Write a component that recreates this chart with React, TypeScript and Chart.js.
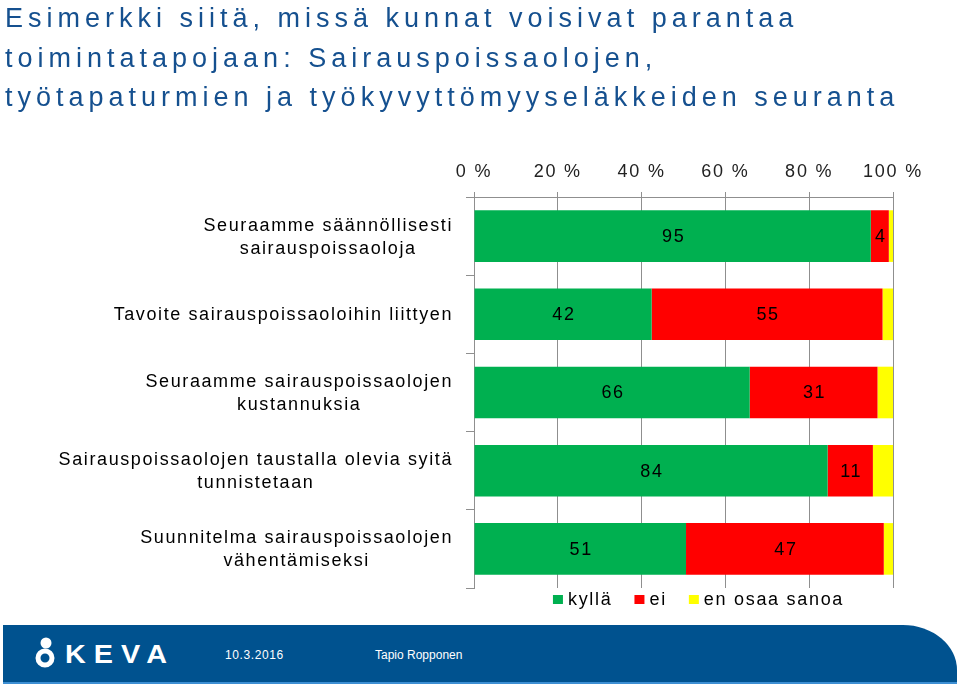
import { useEffect, useRef } from "react";
import { Chart, registerables } from "chart.js";

Chart.register(...registerables);

const titleLines = [
  "Esimerkki siitä, missä kunnat voisivat parantaa",
  "toimintatapojaan: Sairauspoissaolojen,",
  "työtapaturmien ja työkyvyttömyyseläkkeiden seuranta",
];

const categories: string[][] = [
  ["Seuraamme säännöllisesti", "sairauspoissaoloja"],
  ["Tavoite sairauspoissaoloihin liittyen"],
  ["Seuraamme sairauspoissaolojen", "kustannuksia"],
  ["Sairauspoissaolojen taustalla olevia syitä", "tunnistetaan"],
  ["Suunnitelma sairauspoissaolojen", "vähentämiseksi"],
];

const seriesNames = ["kyllä", "ei", "en osaa sanoa"];
const kylla = [94.7, 42.4, 65.8, 84.4, 50.6];
const ei = [4.3, 55.1, 30.5, 10.8, 47.2];
const enOsaa = [1.0, 2.5, 3.7, 4.8, 2.2];
const seriesColors = ["#00B050", "#FF0000", "#FFFF00"];
const labelledSeries = [true, true, false];

const xTicks = [0, 20, 40, 60, 80, 100];

const footerDate = "10.3.2016";
const footerName = "Tapio Ropponen";

const FONT = '"Liberation Sans", Arial, sans-serif';

const customPlugin = {
  id: "custom",
  beforeDraw(chart: any) {
    (chart.ctx as any).letterSpacing = "1.8px";
  },
  afterDatasetsDraw(chart: any) {
    const ctx = chart.ctx;
    ctx.save();
    ctx.font = `18px ${FONT}`;
    (ctx as any).letterSpacing = "1.7px";
    ctx.fillStyle = "#000";
    ctx.textAlign = "center";
    ctx.textBaseline = "middle";
    chart.data.datasets.forEach((ds: any, di: number) => {
      if (!labelledSeries[di]) return;
      const meta = chart.getDatasetMeta(di);
      meta.data.forEach((el: any, i: number) => {
        const v = ds.data[i];
        const c = el.getCenterPoint();
        ctx.fillText(String(Math.round(v)), c.x + 1, c.y + 1);
      });
    });
    ctx.restore();
  },
  afterDraw(chart: any) {
    const ctx = chart.ctx;
    const yScale = chart.scales.y;
    const area = chart.chartArea;
    ctx.save();
    ctx.font = `18px ${FONT}`;
    (ctx as any).letterSpacing = "1.6px";
    ctx.fillStyle = "#000";
    ctx.textAlign = "center";
    ctx.textBaseline = "middle";
    const lh = 23;
    const right = area.left - 21;
    categories.forEach((lines, i) => {
      const yc = yScale.getPixelForValue(i);
      const maxW = Math.max(...lines.map((l) => ctx.measureText(l).width));
      const cx = right - maxW / 2;
      const y0 = yc - ((lines.length - 1) * lh) / 2;
      lines.forEach((l, j) => ctx.fillText(l, cx, y0 + j * lh + 1));
    });

    // legend
    (ctx as any).letterSpacing = "1.7px";
    ctx.textAlign = "left";
    const box = 10;
    const gapBoxText = 5;
    const gapItems = 22;
    const widths = seriesNames.map((n) => ctx.measureText(n).width);
    const total =
      widths.reduce((a, b) => a + b, 0) +
      seriesNames.length * (box + gapBoxText) +
      (seriesNames.length - 1) * gapItems;
    let x = (area.left + area.right) / 2 + 15 - total / 2;
    const ly = area.bottom + 12;
    seriesNames.forEach((n, i) => {
      ctx.fillStyle = seriesColors[i];
      ctx.fillRect(x, ly - 5, box, 9);
      x += box + gapBoxText;
      ctx.fillStyle = "#000";
      ctx.fillText(n, x, ly);
      x += widths[i] + gapItems;
    });
    ctx.restore();
  },
};

function BarChart() {
  const ref = useRef<HTMLCanvasElement | null>(null);
  useEffect(() => {
    if (!ref.current) return;
    const values = [kylla, ei, enOsaa];
    const chart = new Chart(ref.current, {
      type: "bar",
      data: {
        labels: categories.map((c) => c.join(" ")),
        datasets: seriesNames.map((name, i) => ({
          label: name,
          data: values[i],
          backgroundColor: seriesColors[i],
          borderWidth: 0,
          categoryPercentage: 1,
          barPercentage: 0.66,
        })),
      },
      options: {
        indexAxis: "y",
        responsive: false,
        animation: false,
        layout: { padding: { top: 140, right: 66, bottom: 96, left: 0 } },
        plugins: {
          legend: { display: false },
          tooltip: { enabled: false },
        },
        scales: {
          x: {
            type: "linear",
            position: "top",
            stacked: true,
            min: 0,
            max: 100,
            afterBuildTicks: (scale: any) => {
              scale.ticks = xTicks.map((v) => ({ value: v }));
            },
            afterFit: (scale: any) => {
              scale.height = 57;
            },
            ticks: {
              padding: 9,
              color: "#222",
              font: { family: FONT, size: 18 },
              callback: (v: any) => `${v} %`,
            },
            grid: {
              color: "#8f8f8f",
              lineWidth: 1,
              tickLength: 5,
              drawTicks: true,
            },
            border: { display: true, color: "#8f8f8f" },
          },
          y: {
            type: "category",
            stacked: true,
            offset: true,
            afterFit: (scale: any) => {
              scale.width = 474;
            },
            ticks: { display: false },
            grid: {
              display: true,
              drawOnChartArea: false,
              drawTicks: true,
              tickLength: 8,
              offset: true,
              color: "#8f8f8f",
            },
            border: { display: true, color: "#8f8f8f" },
          },
        },
      },
      plugins: [customPlugin],
    } as any);
    return () => chart.destroy();
  }, []);
  return (
    <canvas
      ref={ref}
      width={959}
      height={684}
      style={{ position: "absolute", left: 0, top: 0, width: 959, height: 684 }}
    />
  );
}

export default function App() {
  return (
    <div
      style={{
        position: "fixed",
        left: 0,
        top: 0,
        width: 959,
        height: 684,
        background: "#fff",
        overflow: "hidden",
        fontFamily: FONT,
      }}
    >
      <BarChart />
      <div
        style={{
          position: "absolute",
          left: 5,
          top: -1,
          fontSize: 27,
          lineHeight: "39.5px",
          letterSpacing: "5px",
          color: "#15508f",
          whiteSpace: "nowrap",
        }}
      >
        {titleLines.map((l, i) => (
          <div key={i}>{l}</div>
        ))}
      </div>
      <div
        style={{
          position: "absolute",
          left: 3,
          top: 625,
          width: 954,
          height: 57,
          background: "#00528f",
          borderTopRightRadius: "54px 45px",
        }}
      >
        <svg
          width="30"
          height="36"
          viewBox="0 0 30 36"
          style={{ position: "absolute", left: 29, top: 11 }}
        >
          <circle cx="14" cy="7" r="5.5" fill="#fff" />
          <circle cx="13" cy="22" r="7" fill="none" stroke="#fff" strokeWidth="5" />
        </svg>
        <div
          style={{
            position: "absolute",
            left: 62,
            top: 17,
            fontSize: 25,
            lineHeight: "25px",
            fontWeight: 600,
            color: "#fff",
            letterSpacing: "7px",
            transform: "scaleX(1.15)",
            transformOrigin: "left center",
          }}
        >
          KEVA
        </div>
        <div
          style={{
            position: "absolute",
            left: 222,
            top: 23,
            fontSize: 12,
            lineHeight: "14px",
            color: "#fff",
            letterSpacing: "0.6px",
          }}
        >
          {footerDate}
        </div>
        <div
          style={{
            position: "absolute",
            left: 372,
            top: 23,
            fontSize: 12,
            lineHeight: "14px",
            color: "#fff",
          }}
        >
          {footerName}
        </div>
      </div>
      <div
        style={{
          position: "absolute",
          left: 3,
          top: 682,
          width: 954,
          height: 2,
          background: "#3d8fd3",
        }}
      />
    </div>
  );
}
